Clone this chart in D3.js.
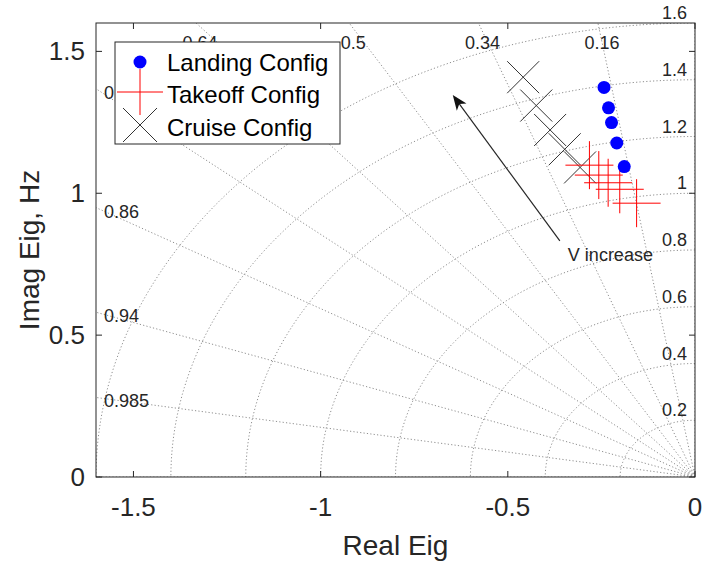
<!DOCTYPE html>
<html><head><meta charset="utf-8">
<script src="https://cdn.jsdelivr.net/npm/d3@7"></script>
<style>
body{margin:0;background:#fff}
text{font-family:"Liberation Sans",Arial,Helvetica,sans-serif;fill:#262626}
</style>
</head><body>
<svg id="chart" width="703" height="564"></svg>
<script>
// Eigenvalues (real part, imaginary part in Hz) for each configuration
const landingRe = [-0.243, -0.231, -0.223, -0.209, -0.189];
const landingIm = [1.373, 1.301, 1.249, 1.177, 1.094];
const takeoffRe = [-0.282, -0.257, -0.232, -0.201, -0.156];
const takeoffIm = [1.099, 1.064, 1.037, 1.014, 0.965];
const cruiseRe = [-0.459, -0.424, -0.387, -0.348, -0.307];
const cruiseIm = [1.409, 1.309, 1.223, 1.155, 1.091];

const xTicks = [-1.5, -1, -0.5, 0];
const yTicks = [0, 0.5, 1, 1.5];
const dampingRatios = [0.16, 0.34, 0.5, 0.64, 0.76, 0.86, 0.94, 0.985];
const naturalFreqs = [0.2, 0.4, 0.6, 0.8, 1, 1.2, 1.4, 1.6];
const legendLabels = ["Landing Config", "Takeoff Config", "Cruise Config"];

// Trend arrow (data coordinates) and its caption
const arrowFrom = [-0.361, 0.832];
const arrowTo = [-0.647, 1.346];
const arrowCaption = "V increase";
const captionAt = [-0.226, 0.783];

(function draw() {
  const svg = d3.select("#chart");
  const pL = 96, pR = 695, pT = 23, pB = 477;
  const x = d3.scaleLinear().domain([-1.6, 0]).range([pL, pR]);
  const y = d3.scaleLinear().domain([0, 1.6]).range([pB, pT]);
  const axisColor = "#262626";

  svg.append("defs").append("clipPath").attr("id", "plotClip")
    .append("rect").attr("x", pL).attr("y", pT)
    .attr("width", pR - pL).attr("height", pB - pT);

  // s-plane grid: damping-ratio rays and natural-frequency arcs
  const grid = svg.append("g").attr("clip-path", "url(#plotClip)");
  const gridStyle = sel => sel.attr("fill", "none").attr("stroke", "#8f8f8f")
    .attr("stroke-width", 1).attr("stroke-dasharray", "1.2,2.2");

  const line = d3.line().x(d => x(d[0])).y(d => y(d[1]));
  const R = 3;
  dampingRatios.concat([0, 1]).forEach(z => {
    const th = Math.acos(z);
    grid.append("path").datum([[0, 0], [-R * Math.cos(th), R * Math.sin(th)]])
      .attr("d", line).call(gridStyle);
  });
  naturalFreqs.forEach(w => {
    const pts = d3.range(0, 91).map(i => {
      const a = Math.PI / 2 + i * Math.PI / 180;
      return [w * Math.cos(a), w * Math.sin(a)];
    });
    grid.append("path").datum(pts).attr("d", line).call(gridStyle);
  });

  // Damping-ratio labels where each ray leaves the axes
  const gridLabels = svg.append("g").attr("font-size", 18);
  dampingRatios.forEach(z => {
    const t = Math.tan(Math.acos(z));
    const yAtLeft = 1.6 * t;
    if (yAtLeft < 1.6) {
      gridLabels.append("text").attr("x", pL + 8).attr("y", y(yAtLeft) + 4)
        .attr("dominant-baseline", "central").text(String(z));
    } else {
      gridLabels.append("text").attr("x", x(-1.6 / t) + 4).attr("y", pT + 20)
        .attr("text-anchor", "middle").attr("dominant-baseline", "central").text(String(z));
    }
  });
  // Natural-frequency labels along the imaginary axis
  naturalFreqs.forEach(w => {
    gridLabels.append("text").attr("x", pR - 8).attr("y", y(w) - 10)
      .attr("text-anchor", "end").attr("dominant-baseline", "central").text(String(w));
  });

  // Axes box and inward ticks
  svg.append("rect").attr("x", pL).attr("y", pT)
    .attr("width", pR - pL).attr("height", pB - pT)
    .attr("fill", "none").attr("stroke", axisColor).attr("stroke-width", 1);
  const tl = 6;
  xTicks.forEach(v => {
    svg.append("line").attr("x1", x(v)).attr("x2", x(v)).attr("y1", pB).attr("y2", pB - tl)
      .attr("stroke", axisColor);
    svg.append("line").attr("x1", x(v)).attr("x2", x(v)).attr("y1", pT).attr("y2", pT + tl)
      .attr("stroke", axisColor);
    svg.append("text").attr("x", x(v)).attr("y", pB + 30).attr("text-anchor", "middle")
      .attr("dominant-baseline", "central").attr("font-size", 26).text(String(v));
  });
  yTicks.forEach(v => {
    svg.append("line").attr("x1", pL).attr("x2", pL + tl).attr("y1", y(v)).attr("y2", y(v))
      .attr("stroke", axisColor);
    svg.append("line").attr("x1", pR).attr("x2", pR - tl).attr("y1", y(v)).attr("y2", y(v))
      .attr("stroke", axisColor);
    svg.append("text").attr("x", pL - 11).attr("y", y(v)).attr("text-anchor", "end")
      .attr("dominant-baseline", "central").attr("font-size", 26).text(String(v));
  });
  svg.append("text").attr("x", (pL + pR) / 2).attr("y", 545).attr("text-anchor", "middle")
    .attr("dominant-baseline", "central").attr("font-size", 28).text("Real Eig");
  svg.append("text").attr("transform", `translate(29,${(pT + pB) / 2}) rotate(-90)`)
    .attr("text-anchor", "middle").attr("dominant-baseline", "central")
    .attr("font-size", 28).text("Imag Eig, Hz");

  // Trend arrow
  const ax0 = x(arrowFrom[0]), ay0 = y(arrowFrom[1]), ax1 = x(arrowTo[0]), ay1 = y(arrowTo[1]);
  const ang = Math.atan2(ay1 - ay0, ax1 - ax0);
  const hl = 15, hw = 6;
  const c = Math.cos(ang), s = Math.sin(ang);
  const bx = ax1 - hl * c, by = ay1 - hl * s;
  svg.append("line").attr("x1", ax0).attr("y1", ay0).attr("x2", bx + 4 * c).attr("y2", by + 4 * s)
    .attr("stroke", axisColor).attr("stroke-width", 1.2);
  svg.append("path")
    .attr("d", `M${ax1},${ay1} L${bx - hw * s},${by + hw * c} L${bx + 4 * c},${by + 4 * s} L${bx + hw * s},${by - hw * c} Z`)
    .attr("fill", "#111");
  svg.append("text").attr("x", x(captionAt[0])).attr("y", y(captionAt[1])).attr("text-anchor", "middle")
    .attr("dominant-baseline", "central").attr("font-size", 18).text(arrowCaption);

  // Markers
  const marks = svg.append("g");
  const plusMark = (g, cx, cy, h) => {
    g.append("line").attr("x1", cx - h).attr("x2", cx + h).attr("y1", cy).attr("y2", cy)
      .attr("stroke", "#ff0000").attr("stroke-width", 1);
    g.append("line").attr("x1", cx).attr("x2", cx).attr("y1", cy - h).attr("y2", cy + h)
      .attr("stroke", "#ff0000").attr("stroke-width", 1);
  };
  const crossMark = (g, cx, cy, h) => {
    g.append("line").attr("x1", cx - h).attr("x2", cx + h).attr("y1", cy - h).attr("y2", cy + h)
      .attr("stroke", "#333").attr("stroke-width", 1);
    g.append("line").attr("x1", cx - h).attr("x2", cx + h).attr("y1", cy + h).attr("y2", cy - h)
      .attr("stroke", "#333").attr("stroke-width", 1);
  };
  cruiseRe.forEach((re, i) => crossMark(marks, x(re), y(cruiseIm[i]), 16));
  takeoffRe.forEach((re, i) => plusMark(marks, x(re), y(takeoffIm[i]), 24));
  landingRe.forEach((re, i) => {
    marks.append("circle").attr("cx", x(re)).attr("cy", y(landingIm[i])).attr("r", 6.5).attr("fill", "#0000ff");
  });

  // Legend
  const lg = svg.append("g");
  lg.append("rect").attr("x", 115).attr("y", 42).attr("width", 225).attr("height", 102)
    .attr("fill", "#fff").attr("stroke", axisColor).attr("stroke-width", 1);
  const rowY = [62, 94, 127];
  lg.append("circle").attr("cx", 140).attr("cy", rowY[0]).attr("r", 6.5).attr("fill", "#0000ff");
  plusMark(lg, 140, rowY[1] - 2, 23);
  crossMark(lg, 140, rowY[2] - 2, 17);
  legendLabels.forEach((t, i) => {
    lg.append("text").attr("x", 167).attr("y", rowY[i]).attr("dominant-baseline", "central")
      .attr("font-size", 24).style("fill", "#000").text(t);
  });
})();
</script>
</body></html>
